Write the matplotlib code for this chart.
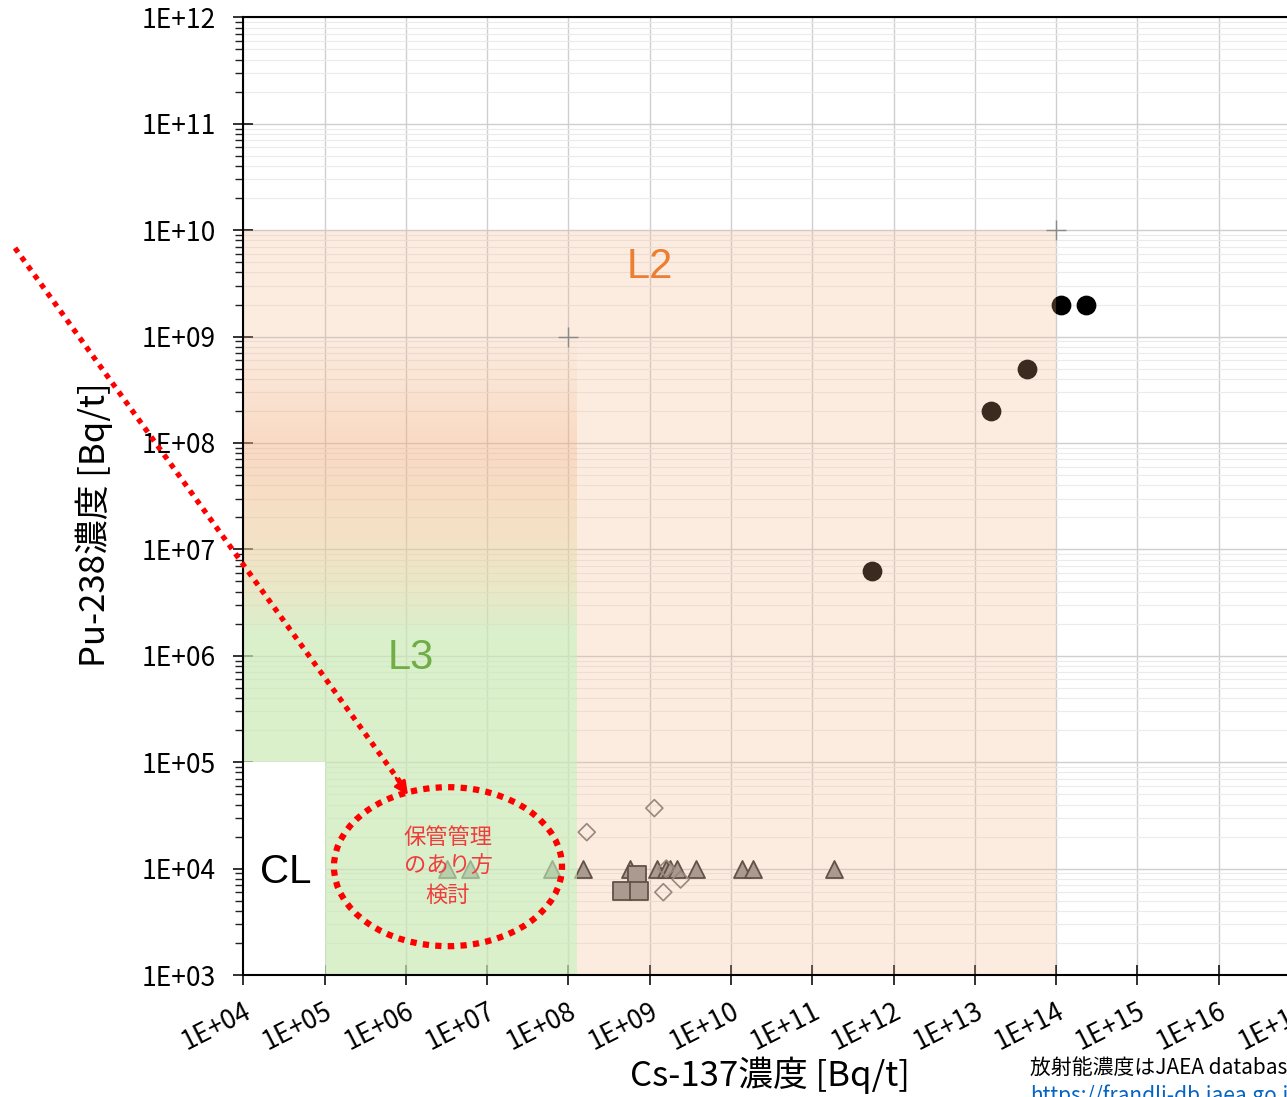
import matplotlib.pyplot as plt
import numpy as np
from matplotlib.patches import Rectangle, Ellipse
from matplotlib.lines import Line2D
from matplotlib.ticker import FixedLocator, FixedFormatter, LogLocator, NullFormatter

plt.rcParams['font.family'] = ['Noto Sans CJK JP', 'DejaVu Sans']

# values [Bq/t]
circle_cs = [5.5e11, 1.6e13, 4.4e13, 1.15e14, 2.3e14]
circle_pu = [6.2e6, 2.0e8, 5.0e8, 2.0e9, 2.0e9]
tri_cs = [3.2e6, 6.1e6, 6.2e7, 1.5e8, 5.7e8, 1.24e9, 1.6e9, 1.77e9, 2.14e9,
          3.7e9, 1.35e10, 1.87e10, 1.85e11]
tri_pu = [1e4, 1e4, 1e4, 1e4, 1e4, 1e4, 1e4, 1e4, 1e4, 1e4, 1e4, 1e4, 1e4]
square_cs = [7.0e8, 4.5e8, 7.4e8]
square_pu = [8.7e3, 6.2e3, 6.2e3]
diamond_cs = [1.68e8, 1.14e9, 1.47e9, 2.4e9, 1.6e9]
diamond_pu = [2.2e4, 3.7e4, 6.0e3, 7.9e3, 1.0e4]
cross_cs = [1e8, 1e14]
cross_pu = [1e9, 1e10]

# level regions
l2_x = [1e4, 1e14]
l2_y = [1e3, 1e10]
l3_x = [1e4, 1.28e8]
l3_y = [1e3, 1e9]
cl_x = [1e4, 1e5]
cl_y = [1e3, 1e5]

x_ticks = [1e4, 1e5, 1e6, 1e7, 1e8, 1e9, 1e10, 1e11, 1e12, 1e13, 1e14, 1e15, 1e16, 1e17]
x_labels = ['1E+04', '1E+05', '1E+06', '1E+07', '1E+08', '1E+09', '1E+10', '1E+11',
            '1E+12', '1E+13', '1E+14', '1E+15', '1E+16', '1E+17']
y_ticks = [1e3, 1e4, 1e5, 1e6, 1e7, 1e8, 1e9, 1e10, 1e11, 1e12]
y_labels = ['1E+03', '1E+04', '1E+05', '1E+06', '1E+07', '1E+08', '1E+09', '1E+10',
            '1E+11', '1E+12']

fig = plt.figure(figsize=(12.87, 10.97), dpi=100)
ax = fig.add_axes([243.3 / 1287, 122 / 1097, 1056.7 / 1287, 957.7 / 1097])
ax.set_xscale('log')
ax.set_yscale('log')
ax.set_xlim(1e4, 1e17)
ax.set_ylim(1e3, 1e12)

# grid under everything
ax.set_axisbelow(True)
ax.xaxis.set_minor_locator(LogLocator(base=10, subs=np.arange(2, 10)))
ax.yaxis.set_minor_locator(LogLocator(base=10, subs=np.arange(2, 10)))
ax.grid(which='major', color='#cfcfcf', lw=1.0)
ax.grid(which='minor', color='#ebebeb', lw=0.8)

# data marks
ax.scatter(tri_cs, tri_pu, marker='^', s=150, facecolor='#939393', edgecolor='#333333', lw=1.3, zorder=2)
ax.scatter(square_cs, square_pu, marker='s', s=150, facecolor='#939393', edgecolor='#333333', lw=1.3, zorder=2.1)
ax.scatter(diamond_cs, diamond_pu, marker='D', s=75, facecolor='none', edgecolor='#7a7a7a', lw=1.2, zorder=2.2)
ax.scatter(circle_cs, circle_pu, marker='o', s=175, facecolor='black', edgecolor='black', zorder=2.3)

# L2 translucent overlay
ax.add_patch(Rectangle((l2_x[0], l2_y[0]), l2_x[1] - l2_x[0], l2_y[1] - l2_y[0],
                       facecolor='#f4b183', alpha=0.245, edgecolor='none', zorder=3))

# L3 gradient overlay (green -> orange going up)
grad_pos = [3.0, 6.2, 7.0, 8.0, 9.0]
grad_rgba = np.array([
    [195, 243, 190, 0.60 * 255],
    [195, 243, 190, 0.60 * 255],
    [230, 215, 160, 0.40 * 255],
    [244, 177, 131, 0.30 * 255],
    [244, 177, 131, 0.00],
]) / 255.0
levels = np.linspace(np.log10(l3_y[0]), np.log10(l3_y[1]), 121)
mids = (levels[:-1] + levels[1:]) / 2
cols = np.stack([np.interp(mids, grad_pos, grad_rgba[:, k]) for k in range(4)], axis=-1)
ax.pcolormesh(l3_x, 10 ** levels, cols[:, None, :], zorder=3.1, antialiased=False)

# CL white box
ax.add_patch(Rectangle((cl_x[0], cl_y[0]), cl_x[1] - cl_x[0], cl_y[1] - cl_y[0],
                       facecolor='white', edgecolor='none', zorder=4))

ax.scatter(cross_cs, cross_pu, marker='+', s=200, color='#8a8a8a', lw=1.0, zorder=5)

# labels for levels
ax.text(1.0e9, 4.5e9, 'L2', color='#ed7d31', fontsize=30, family='Liberation Sans',
        ha='center', va='center', zorder=6)
ax.text(1.15e6, 9.5e5, 'L3', color='#70ad47', fontsize=30, family='Liberation Sans',
        ha='center', va='center', zorder=6)
ax.text(3.3e4, 9.3e3, 'CL', color='black', fontsize=29, family='Liberation Sans',
        ha='center', va='center', zorder=6)
ax.text(3.3e6, 1.05e4, '保管管理\nのあり方\n検討', color='#f03c3c', fontsize=16,
        ha='center', va='center', linespacing=1.35, zorder=6)

ax.add_patch(Ellipse((0.1937, 0.1131), 0.2158, 0.166, transform=ax.transAxes, fill=False,
                     edgecolor='red', lw=4.5, ls=(0, (1, 1)), zorder=6, clip_on=False))

# dotted pointer line with a small solid head
fig.add_artist(Line2D([15 / 1287, 400 / 1287], [(1097 - 248) / 1097, (1097 - 782) / 1097],
                      color='red', lw=3.8, ls=(0, (1, 1.1)), transform=fig.transFigure,
                      zorder=7))
ax.annotate('', xy=(408, 1097 - 795), xytext=(396, 1097 - 778),
            xycoords='figure pixels', textcoords='figure pixels',
            arrowprops=dict(arrowstyle='-|>,head_length=0.8,head_width=0.4', color='red',
                            lw=2, shrinkA=0, shrinkB=0),
            zorder=7, annotation_clip=False)

# axes styling
for side in ['left', 'bottom', 'top', 'right']:
    ax.spines[side].set_color('black')
    ax.spines[side].set_linewidth(1.5)
    ax.spines[side].set_zorder(8)

ax.xaxis.set_major_locator(FixedLocator(x_ticks))
ax.xaxis.set_major_formatter(FixedFormatter(x_labels))
ax.yaxis.set_major_locator(FixedLocator(y_ticks))
ax.yaxis.set_major_formatter(FixedFormatter(y_labels))
ax.xaxis.set_minor_formatter(NullFormatter())
ax.yaxis.set_minor_formatter(NullFormatter())

ax.tick_params(which='major', direction='inout', length=14, width=1.3, color='#222222')
ax.tick_params(which='minor', direction='out', length=6, width=1.0, color='#222222')
ax.tick_params(axis='y', which='major', labelsize=19, pad=13)
ax.tick_params(axis='x', which='major', labelsize=19, pad=9)
for lab in ax.get_xticklabels():
    lab.set_rotation(27)
    lab.set_ha('right')
    lab.set_va('top')
    lab.set_rotation_mode('anchor')

ax.set_xlabel('Cs-137濃度 [Bq/t]', fontsize=25)
ax.set_ylabel('Pu-238濃度 [Bq/t]', fontsize=25)
ax.xaxis.set_label_coords(0.498, -0.085)
ax.yaxis.set_label_coords(-0.123, 0.47)

fig.text(1030 / 1287, (1097 - 1068) / 1097, '放射能濃度はJAEA database より引用', fontsize=15,
         ha='left', va='center')
fig.text(1030 / 1287, (1097 - 1084) / 1097, 'https://frandli-db.jaea.go.jp/', fontsize=15,
         color='#0563c1', ha='left', va='top')

fig.savefig('out.png', dpi=100)
